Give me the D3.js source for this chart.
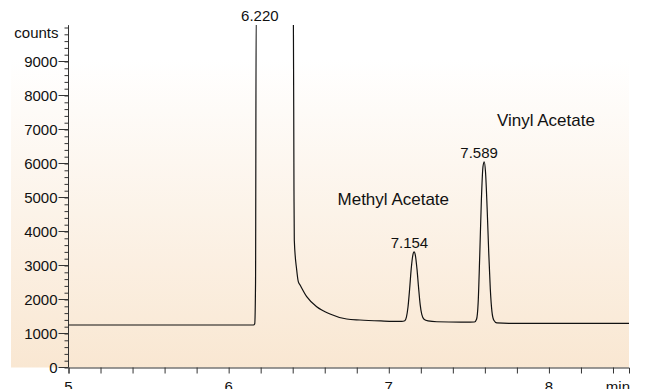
<!DOCTYPE html>
<html>
<head>
<meta charset="utf-8">
<script src="https://cdn.jsdelivr.net/npm/d3@7"></script>
<style>
  body { margin: 0; background: #fff; }
  text { font-family: "Liberation Sans", Arial, Helvetica, sans-serif; fill: #111; }
</style>
</head>
<body>
<script>
// chromatogram trace (time in min, counts)
const times = [5.0, 6.155, 6.163, 6.168, 6.172, 6.404, 6.408, 6.410, 6.425, 6.435, 6.446, 6.4875, 6.55, 6.633, 6.737, 6.82, 6.95,
  7.08, 7.10, 7.11, 7.12, 7.13, 7.14, 7.15, 7.158, 7.166, 7.176, 7.186, 7.196, 7.206, 7.22, 7.245, 7.3, 7.45,
  7.535, 7.548, 7.558, 7.568, 7.578, 7.588, 7.596, 7.604, 7.614, 7.624, 7.634, 7.644, 7.656, 7.675, 7.75, 8.5];
const counts = [1250, 1250, 1290, 2500, 10500, 10500, 5200, 3740, 2868, 2524, 2426, 2082, 1788, 1574, 1426, 1397, 1370,
  1354, 1375, 1480, 1780, 2300, 2900, 3300, 3400, 3300, 2900, 2350, 1850, 1560, 1420, 1370, 1345, 1335,
  1338, 1420, 1900, 3300, 4900, 5900, 6050, 5750, 4700, 3400, 2300, 1650, 1390, 1310, 1300, 1300];

const peakTimes = [6.220, 7.154, 7.589];
const peakLabels = ["6.220", "7.154", "7.589"];
const compoundNames = ["Methyl Acetate", "Vinyl Acetate"];

const xTicks = [5, 6, 7, 8];
const yTicks = [0, 1000, 2000, 3000, 4000, 5000, 6000, 7000, 8000, 9000];

const W = 671, H = 389;
const svg = d3.select("body").append("svg").attr("width", W).attr("height", H);

const x = d3.scaleLinear().domain([5, 8.5]).range([68.5, 629]);
const y = d3.scaleLinear().domain([0, 9000]).range([367.5, 61.5]);
const yTop = y(10070);

// background gradient
const defs = svg.append("defs");
const grad = defs.append("linearGradient").attr("id", "bg").attr("x1", 0).attr("y1", 0).attr("x2", 0).attr("y2", 1);
grad.append("stop").attr("offset", "0").attr("stop-color", "#ffffff");
grad.append("stop").attr("offset", "0.1").attr("stop-color", "#ffffff");
grad.append("stop").attr("offset", "1").attr("stop-color", "#f9e7d2");
svg.append("rect").attr("x", 11).attr("y", yTop).attr("width", 629 - 11).attr("height", y(0) - yTop)
  .attr("fill", "url(#bg)");

defs.append("clipPath").attr("id", "clip").append("rect")
  .attr("x", x(5)).attr("y", yTop).attr("width", x(8.5) - x(5)).attr("height", y(0) - yTop);

// y axis
const yAxis = svg.append("g").attr("transform", `translate(${x(5)},0)`);
yAxis.call(d3.axisLeft(y).tickValues(d3.range(0, 10001, 200)).tickSize(4).tickFormat(""));
yAxis.call(g => g.select(".domain").attr("d", `M0,${y(0)}V${yTop}`));
yAxis.append("g").selectAll("line").data(yTicks).join("line")
  .attr("x1", -10).attr("x2", 0).attr("y1", d => y(d)).attr("y2", d => y(d)).attr("stroke", "currentColor");
yAxis.append("g").selectAll("text").data(yTicks).join("text")
  .attr("x", -11).attr("y", d => y(d)).attr("dy", "0.36em").attr("text-anchor", "end")
  .style("font-size", "15px").text(d => d);
yAxis.append("text").attr("x", -10).attr("y", 38).attr("text-anchor", "end")
  .style("font-size", "15px").text("counts");
yAxis.selectAll("path, line").attr("stroke", "#333");

// x axis
const xAxis = svg.append("g").attr("transform", `translate(0,${y(0)})`);
xAxis.call(d3.axisBottom(x).tickValues(d3.range(5, 8.41, 0.2)).tickSize(6).tickFormat(""));
xAxis.selectAll("path, line").attr("stroke", "#333");
xAxis.append("g").selectAll("text").data(xTicks).join("text")
  .attr("x", d => x(d)).attr("y", 24.5).attr("text-anchor", "middle")
  .style("font-size", "15px").text(d => d);
xAxis.append("text").attr("x", 630).attr("y", 24.5).attr("text-anchor", "end")
  .style("font-size", "15px").text("min");

// trace
const pts = times.map((t, i) => [t, counts[i]]);
svg.append("path").datum(pts)
  .attr("clip-path", "url(#clip)")
  .attr("fill", "none").attr("stroke", "#111").attr("stroke-width", 1.2)
  .attr("d", d3.line().x(d => x(d[0])).y(d => y(d[1])).curve(d3.curveMonotoneX));

// peak labels above each apex
peakTimes.forEach((rt, i) => {
  const near = pts.filter(p => Math.abs(p[0] - rt) < 0.05);
  const top = Math.max(y(d3.max(near, p => p[1])), yTop);
  svg.append("text").attr("x", x(rt) - 4).attr("y", top - 4).attr("text-anchor", "middle")
    .style("font-size", "15px").text(peakLabels[i]);
});

// compound names
const nameAnchors = [[6.68, 4770], [7.675, 7090]];
compoundNames.forEach((n, i) => {
  svg.append("text").attr("x", x(nameAnchors[i][0])).attr("y", y(nameAnchors[i][1]))
    .style("font-size", "17px").text(n);
});
</script>
</body>
</html>
